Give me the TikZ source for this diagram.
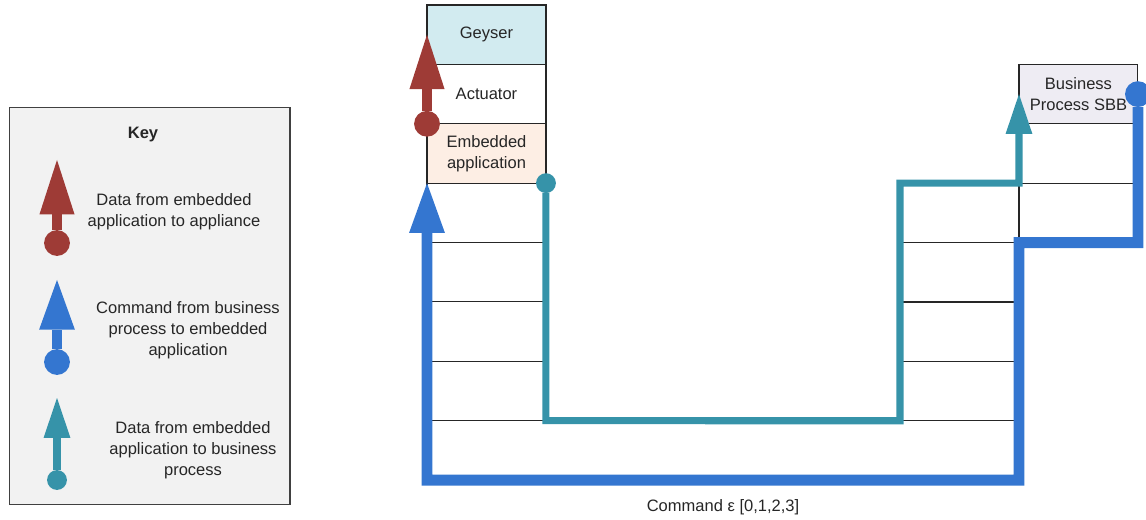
\documentclass[tikz,border=0pt]{standalone}
\usepackage{fontspec}
\setmainfont{Liberation Sans}
\usetikzlibrary{arrows.meta,positioning}

\definecolor{appred}{HTML}{9E3B36}
\definecolor{cmdblue}{HTML}{3476D0}
\definecolor{datateal}{HTML}{3693A9}
\definecolor{geyserfill}{HTML}{D2EBF0}
\definecolor{embfill}{HTML}{FDEEE4}
\definecolor{sbbfill}{HTML}{EEECF3}

\tikzset{
  cell/.style={draw=black!85, line width=0.6pt, minimum width=2.38cm, minimum height=1.188cm,
    inner sep=0pt, outer sep=0pt, align=center, text=black!85},
  opencell/.style={cell, draw=none},
  redflow/.style={draw=appred, line width=6.2pt,
    {Circle[length=14.7pt,line width=0pt]}-{Triangle[length=31pt,width=20pt,line width=0pt]},
    shorten <=-7.35pt},
  cmdflow/.style={draw=cmdblue, line width=6.2pt, line join=miter,
    {Circle[length=14.7pt,line width=0pt]}-{Triangle[length=28.3pt,width=20.4pt,line width=0pt]},
    shorten <=-7.35pt},
  dataflow/.style={draw=datateal, line width=4pt, line join=miter,
    {Circle[length=11.3pt,line width=0pt]}-{Triangle[length=22.7pt,width=15.3pt,line width=0pt]},
    shorten <=-5.65pt},
  keytext/.style={align=center, text=black!85}
}

\begin{document}
\begin{tikzpicture}[x=0.02cm, y=-0.02cm, font=\fontsize{9.4}{11.9}\selectfont]
    \useasboundingbox (0,0) rectangle (1146,520);

    % Key
    \node[draw=black!75, fill=black!5, line width=0.6pt, minimum width=5.62cm, minimum height=7.96cm] (keybox) at (149.5,306) {};
    \node[text=black!85] (keytitle) at (143,135) {\textbf{Key}};
    \node[keytext] (keyred) at (174,212) {Data from embedded\\application to appliance};
    \node[keytext] (keycmd) at (188,330) {Command from business\\process to embedded\\application};
    \node[keytext] (keydata) at (193,450) {Data from embedded\\application to business\\process};
    \coordinate (kr1) at (57,243); \coordinate (kr2) at (57,160);
    \coordinate (kc1) at (57,362); \coordinate (kc2) at (57,280);
    \coordinate (kd1) at (57,480); \coordinate (kd2) at (57,398);
    \draw[redflow] (kr1) -- (kr2);
    \draw[cmdflow] (kc1) -- (kc2);
    \draw[dataflow] (kd1) -- (kd2);

    % Appliance stack
    \node[cell, fill=geyserfill, anchor=north west] (geyser) at (427,5) {Geyser};
    \node[cell, below=0pt of geyser] (act) {Actuator};
    \node[cell, fill=embfill, below=0pt of act] (emb) {Embedded\\application};
    \node[cell, below=0pt of emb] (l1) {};
    \node[cell, below=0pt of l1] (l2) {};
    \node[cell, below=0pt of l2] (l3) {};
    \node[cell, below=0pt of l3] (l4) {};
    \node[opencell, below=0pt of l4] (l5) {};

    % Network stack
    \node[cell, anchor=north west] (m1) at (900,183.2) {};
    \node[cell, below=0pt of m1] (m2) {};
    \node[cell, below=0pt of m2] (m3) {};
    \node[cell, below=0pt of m3] (m4) {};
    \node[opencell, below=0pt of m4] (m5) {};

    % Business process stack
    \node[cell, right=0pt of m1] (r2) {};
    \node[cell, above=0pt of r2] (r1) {};
    \node[cell, fill=sbbfill, above=0pt of r1] (sbb) {Business\\Process SBB};

    % Flows
    \draw[redflow] (act.south west) -- (geyser.west);
    \draw[dataflow] (emb.south east) -- (l5.north east) -- (m5.north west) -- (m1.north west)
        -- (m1.north east) -- (sbb.west);
    \draw[cmdflow] (sbb.east) -- (r2.south east) -- (r2.south west) -- (m5.south east)
        -- (l5.south west) -- (emb.south west);

    % Caption
    \node[text=black!85] (caption) at (723,507) {Command ε [0,1,2,3]};
\end{tikzpicture}
\end{document}
